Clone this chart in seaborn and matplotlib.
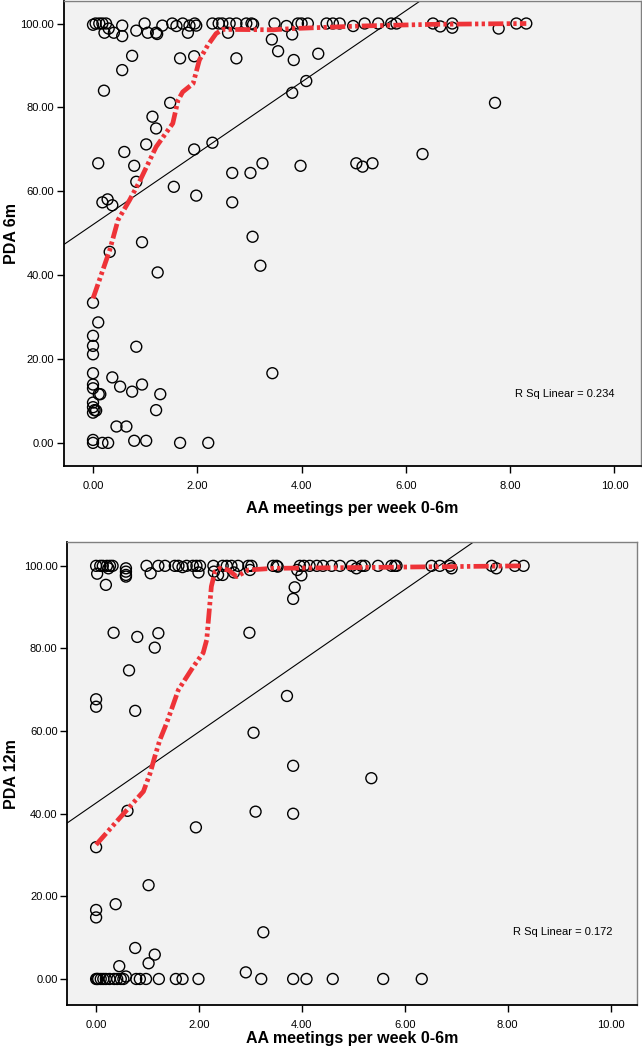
import matplotlib
matplotlib.use("Agg")
import matplotlib.pyplot as plt
import seaborn as sns
import pandas as pd
import numpy as np

# PDA 6m panel
x6 = [0.0, 0.05, 0.12, 0.18, 0.25, 0.30, 0.22, 0.40, 0.56, 0.56, 0.83, 0.99, 1.05, 1.21, 1.23,
      1.33, 1.52, 1.60, 1.72, 1.82, 1.85, 1.95, 1.98, 2.29, 2.41, 2.48, 2.59, 2.62, 2.75, 2.94,
      3.04, 3.07, 3.43, 3.48, 3.55, 3.71, 3.82, 3.93, 3.85, 4.00, 4.12, 4.32, 4.48, 4.60, 4.73,
      4.99, 5.21, 5.47, 5.72, 5.82, 6.52, 6.66, 6.89, 6.89, 7.78, 8.12, 8.31,
      0.75, 0.56, 1.67, 1.94, 2.75, 0.21, 1.48, 3.82, 4.09, 1.14, 1.21, 1.02, 2.29, 1.94, 0.60,
      0.10, 0.79, 3.25, 3.98, 2.67, 3.02, 5.05, 5.17, 5.36, 6.32, 7.71, 0.83, 0.28, 0.18, 0.37,
      1.55, 1.98, 2.67, 0.94, 3.06,
      0.0, 0.10, 0.0, 0.0, 0.0, 0.83, 1.24, 3.21, 0.32, 3.44, 0.0, 0.0, 0.0, 0.37, 0.52, 0.94,
      0.75, 1.29, 0.11, 0.14, 0.0, 0.0, 0.03, 0.06, 0.0, 1.21, 0.45, 0.64, 0.0, 0.0, 0.18, 0.29,
      0.79, 1.02, 1.67, 2.21]
y6 = [99.7, 100, 100, 100, 100, 98.8, 97.8, 97.8, 99.5, 97.0, 98.3, 100, 97.8, 97.8, 97.5,
      99.5, 100, 99.4, 100, 97.8, 99.5, 100, 99.5, 100, 100, 100, 97.8, 100, 100, 100,
      100, 99.8, 96.2, 100, 93.4, 99.4, 97.4, 100, 91.3, 100, 100, 92.8, 100, 100, 100,
      99.4, 100, 100, 100, 100, 100, 99.3, 100, 99.0, 98.8, 100, 100,
      92.3, 88.9, 91.7, 92.2, 91.7, 84.0, 81.1, 83.5, 86.3, 77.8, 75.0, 71.2, 71.6, 70.0, 69.4,
      66.7, 66.1, 66.7, 66.1, 64.4, 64.4, 66.7, 65.9, 66.7, 68.9, 81.1, 62.3, 58.1, 57.4, 56.7,
      61.1, 59.0, 57.4, 47.9, 49.2,
      33.5, 28.8, 25.6, 23.2, 21.2, 23.0, 40.7, 42.3, 45.6, 16.7, 16.7, 14.0, 13.1, 15.7, 13.5, 14.0,
      12.3, 11.7, 11.7, 11.7, 9.7, 8.6, 7.9, 7.8, 7.3, 7.9, 4.0, 4.0, 0.8, 0.1, 0.1, 0.1,
      0.6, 0.6, 0.1, 0.1]

# PDA 12m panel
x12 = [0.0, 0.08, 0.13, 0.21, 0.27, 0.32, 0.02, 0.24, 0.19, 0.58, 0.58, 0.58, 0.58, 0.98, 1.06,
       1.21, 1.34, 1.53, 1.60, 1.68, 1.76, 1.88, 1.95, 2.02, 1.99, 2.28, 2.29, 2.37, 2.46, 2.46,
       2.54, 2.63, 2.68, 2.76, 2.96, 3.02, 2.99, 3.44, 3.51, 3.53, 3.91, 3.96, 3.99, 3.86, 3.83,
       4.04, 4.15, 4.29, 4.41, 4.58, 4.74, 4.97, 5.06, 5.16, 5.22, 5.48, 5.74, 5.81, 5.84, 6.52,
       6.68, 6.88, 6.91, 7.69, 7.78, 8.14, 8.31,
       0.34, 0.80, 1.21, 1.14, 2.98, 0.64, 0.0, 0.0, 0.76, 3.71, 3.06, 0.0, 0.61, 1.94, 3.10,
       3.83, 3.83, 5.35, 1.02, 0.38, 0.0, 0.0, 3.25, 0.76, 1.14, 0.45, 1.02, 0.58, 2.91,
       0.0, 0.02, 0.04, 0.09, 0.14, 0.19, 0.26, 0.35, 0.41, 0.48, 0.53, 0.78, 0.85, 0.97, 1.22,
       1.55, 1.68, 1.99, 3.21, 3.83, 4.09, 4.60, 5.58, 6.33]
y12 = [100, 100, 100, 100, 100, 100, 98.1, 99.4, 95.4, 99.4, 98.6, 97.8, 97.4, 100, 98.2,
       100, 100, 100, 100, 99.7, 100, 100, 100, 100, 98.4, 100, 98.6, 97.8, 97.8, 100,
       100, 100, 98.4, 100, 100, 100, 99.0, 100, 100, 99.8, 99.0, 100, 97.7, 94.8, 92.0,
       100, 100, 100, 100, 100, 100, 100, 99.4, 100, 100, 100, 100, 100, 100, 100,
       100, 100, 99.4, 100, 99.4, 100, 100,
       83.8, 82.8, 83.7, 80.2, 83.8, 74.7, 67.7, 65.9, 64.9, 68.5, 59.6, 31.9, 40.7, 36.7, 40.5,
       51.6, 40.0, 48.6, 22.7, 18.1, 16.7, 14.9, 11.3, 7.5, 5.9, 3.1, 3.8, 0.6, 1.6,
       0, 0, 0, 0, 0, 0, 0, 0, 0, 0, 0, 0, 0, 0, 0,
       0, 0, 0, 0, 0, 0, 0, 0, 0]

# loess curves
fit6_x = [0.0, 0.32, 0.48, 0.70, 0.89, 1.21, 1.53, 1.63, 1.72, 1.92, 2.04, 2.20, 2.36, 2.49,
          3.45, 3.84, 5.12, 6.5, 8.31]
fit6_y = [34.5, 46.0, 53.2, 57.9, 62.3, 70.6, 76.2, 81.7, 83.7, 85.7, 91.3, 94.8, 97.6, 98.6,
          98.5, 98.8, 99.4, 99.8, 100]
fit12_x = [0.0, 0.59, 0.92, 1.05, 1.14, 1.24, 1.37, 1.60, 1.89, 2.08, 2.15, 2.24, 2.31, 2.41,
           2.57, 2.73, 2.96, 3.44, 5.13, 8.31]
fit12_y = [32.5, 40.8, 45.4, 49.8, 53.8, 57.9, 61.9, 70.0, 75.6, 78.9, 82.1, 95.0, 98.6, 99.4,
           99.0, 97.4, 99.0, 99.4, 99.6, 100]

# linear fit lines (intercept, slope)
line6 = (52.1, 8.49)
line12 = (42.6, 8.61)

sns.set_style("white")
plt.rcParams['font.family'] = ['Liberation Sans', 'DejaVu Sans']
plt.rcParams['text.color'] = 'black'
plt.rcParams['axes.labelcolor'] = 'black'

W, H = 642, 1049
fig = plt.figure(figsize=(W / 100, H / 100), dpi=100)


def panel(box, xlim, ylim, xs, ys, fx, fy, line, ylabel, r2, r2pos, xlab_y, ylab_x):
    l, t, r, b = box
    ax = fig.add_axes([l / W, 1 - b / H, (r - l) / W, (b - t) / H])
    ax.set_facecolor('#F2F2F2')
    df = pd.DataFrame({'x': xs, 'y': ys})
    sns.scatterplot(data=df, x='x', y='y', ax=ax, marker='o', s=62,
                    facecolors='none', edgecolor='black', linewidth=1.0, zorder=3)
    ax.axline((0, line[0]), slope=line[1], color='black', lw=0.8, zorder=2)
    fit = pd.DataFrame({'x': fx, 'y': fy})
    ln = sns.lineplot(data=fit, x='x', y='y', ax=ax, color='#EE3338', lw=3.4,
                      sort=False, estimator=None, zorder=4)
    ln.lines[-1].set_dashes([3.2, 0.7, 0.7, 0.7, 0.7, 0.7])
    ax.set_xlim(*xlim)
    ax.set_ylim(*ylim)
    ax.set_xticks(np.arange(0, 11, 2))
    ax.set_yticks(np.arange(0, 101, 20))
    ax.set_xticklabels([f"{v:.2f}" for v in np.arange(0, 11, 2)])
    ax.set_yticklabels([f"{v:.2f}" for v in np.arange(0, 101, 20)])
    ax.tick_params(axis='both', direction='out', length=5, width=1, labelsize=8,
                   colors='black', left=True, bottom=True)
    ax.tick_params(axis='x', pad=6)
    ax.tick_params(axis='y', pad=2)
    for s in ['left', 'bottom']:
        ax.spines[s].set_color('black')
        ax.spines[s].set_linewidth(1.3)
    for s in ['top', 'right']:
        ax.spines[s].set_color('#808080')
        ax.spines[s].set_linewidth(1.0)
    ax.set_xlabel('AA meetings per week 0-6m', fontsize=11.5, fontweight='bold',
                  va='center', color='black')
    ax.set_ylabel(ylabel, fontsize=11.5, fontweight='bold', va='center', color='black')
    # label centres given in figure pixels
    ax.xaxis.set_label_coords(0.5, (b - xlab_y) / (b - t))
    ax.yaxis.set_label_coords((ylab_x - l) / (r - l), 0.5)
    ax.text(r2pos[0], r2pos[1], r2, fontsize=8, ha='left', va='center', color='black')
    ax.grid(False)
    return ax


panel((63.5, 0.5, 641, 465.5), (-0.566, 10.51), (-5.29, 105.48), x6, y6,
      fit6_x, fit6_y, line6, 'PDA 6m', 'R Sq Linear = 0.234', (8.1, 11.8), 508, 12)
panel((67.3, 542.3, 637.3, 1005), (-0.56, 10.52), (-6.3, 105.7), x12, y12,
      fit12_x, fit12_y, line12, 'PDA 12m', 'R Sq Linear = 0.172', (8.1, 11.4), 1039, 12)

fig.savefig('out.png', dpi=100)
